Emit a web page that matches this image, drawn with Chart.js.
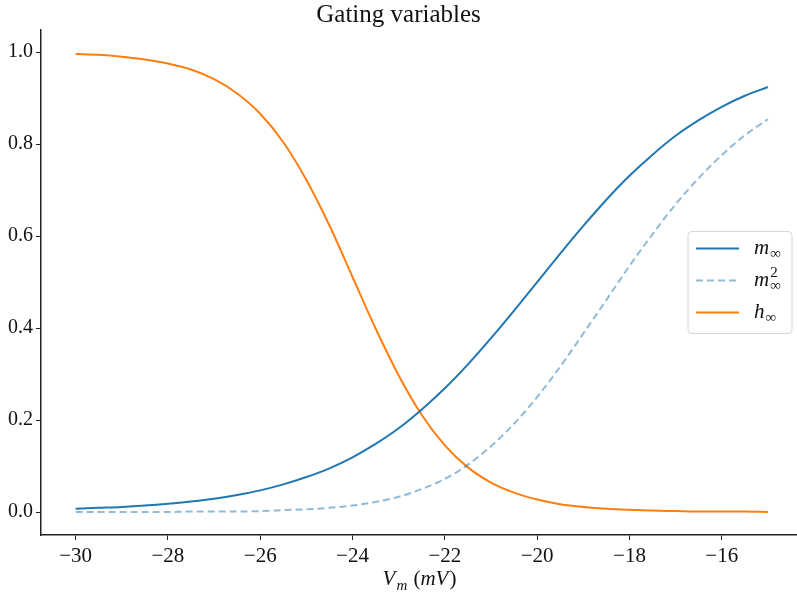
<!DOCTYPE html>
<html>
<head>
<meta charset="utf-8">
<script src="https://cdn.jsdelivr.net/npm/chart.js@4"></script>
<style>
  body { margin: 0; background: #fff; }
  canvas { display: block; }
</style>
</head>
<body>
<canvas id="gating" width="797" height="594"></canvas>
<script>
// Membrane potential samples (mV) and the gating curves
const vm = [-30, -29.5, -29, -28.5, -28, -27.5, -27, -26.5, -26, -25.5, -25, -24.5, -24, -23.5, -23,
            -22.5, -22, -21.5, -21, -20.5, -20, -19.5, -19, -18.5, -18, -17.5, -17, -16.5, -16, -15.5, -15];
const mInf = [0.007, 0.009, 0.011, 0.014, 0.018, 0.023, 0.029, 0.037, 0.047, 0.060, 0.076, 0.095, 0.119, 0.148, 0.182,
              0.223, 0.269, 0.321, 0.378, 0.438, 0.500, 0.562, 0.622, 0.679, 0.731, 0.777, 0.818, 0.852, 0.881, 0.905, 0.924];
const mInfSq = [0.000, 0.000, 0.000, 0.000, 0.000, 0.001, 0.001, 0.001, 0.002, 0.004, 0.006, 0.009, 0.014, 0.022, 0.033,
                0.050, 0.072, 0.103, 0.143, 0.192, 0.250, 0.316, 0.388, 0.461, 0.535, 0.604, 0.669, 0.726, 0.776, 0.819, 0.854];
const hInf = [0.996, 0.994, 0.990, 0.984, 0.975, 0.962, 0.941, 0.910, 0.866, 0.804, 0.722, 0.623, 0.511, 0.399, 0.297,
              0.211, 0.145, 0.097, 0.064, 0.042, 0.027, 0.017, 0.011, 0.007, 0.005, 0.003, 0.002, 0.001, 0.001, 0.001, 0.000];

const xTicks = [-30, -28, -26, -24, -22, -20, -18, -16];
const yTicks = [0, 0.2, 0.4, 0.6, 0.8, 1.0];

const serif = "'Liberation Serif', 'DejaVu Serif', serif";
const blue = '#1f77b4';
const orange = '#ff7f0e';
const lightBlue = 'rgba(31, 119, 180, 0.5)';

const toPoints = ys => vm.map((v, i) => ({ x: v, y: ys[i] }));

// italic base letter with optional super/subscript, returns end x
function drawMath(ctx, x, y, base, sup, sub, size) {
    ctx.font = 'italic ' + size + 'px ' + serif;
    ctx.fillText(base, x, y);
    const w = ctx.measureText(base).width;
    let extra = 0;
    const small = Math.round(size * 0.7);
    if (sup) {
        ctx.font = small + 'px ' + serif;
        ctx.fillText(sup, x + w + 1, y - size * 0.42);
        extra = ctx.measureText(sup).width;
    }
    if (sub) {
        ctx.font = 'italic ' + small + 'px ' + serif;
        ctx.fillText(sub, x + w + 1, y + size * 0.22);
        extra = Math.max(extra, ctx.measureText(sub).width);
    }
    return x + w + extra + 1;
}

const legendItems = [
    { base: 'm', sup: '', sub: '\u221E', color: blue, dash: [] },
    { base: 'm', sup: '2', sub: '\u221E', color: lightBlue, dash: [7, 4] },
    { base: 'h', sup: '', sub: '\u221E', color: orange, dash: [] }
];

const overlay = {
    id: 'overlay',
    afterDraw(chart) {
        const ctx = chart.ctx;
        const a = chart.chartArea;
        ctx.save();

        // legend box
        const w = 104, h = 102;
        const x0 = a.right - w - 5;
        const y0 = (a.top + a.bottom) / 2 - h / 2;
        ctx.beginPath();
        ctx.roundRect(x0, y0, w, h, 4);
        ctx.fillStyle = 'rgba(255, 255, 255, 0.8)';
        ctx.fill();
        ctx.strokeStyle = '#d6d6d6';
        ctx.lineWidth = 1;
        ctx.stroke();

        legendItems.forEach((it, i) => {
            const ly = y0 + 17 + i * 32;
            ctx.beginPath();
            ctx.setLineDash(it.dash);
            ctx.strokeStyle = it.color;
            ctx.lineWidth = 2;
            ctx.moveTo(x0 + 8, ly);
            ctx.lineTo(x0 + 51, ly);
            ctx.stroke();
            ctx.setLineDash([]);
            ctx.fillStyle = '#111';
            ctx.textAlign = 'left';
            ctx.textBaseline = 'alphabetic';
            drawMath(ctx, x0 + 66, ly + 5, it.base, it.sup, it.sub, 21);
        });

        // x axis label: V_m (mV)
        const size = 21;
        ctx.font = 'italic ' + size + 'px ' + serif;
        const wV = ctx.measureText('V').width;
        ctx.font = 'italic 15px ' + serif;
        const wm = ctx.measureText('m').width;
        ctx.font = size + 'px ' + serif;
        const wOpen = ctx.measureText(' (').width;
        const wClose = ctx.measureText(')').width;
        ctx.font = 'italic ' + size + 'px ' + serif;
        const wmV = ctx.measureText('mV').width;
        const total = wV + wm + 2 + wOpen + wmV + wClose;
        let x = (a.left + a.right) / 2 - total / 2;
        const by = 585;
        ctx.fillStyle = '#111';
        ctx.textAlign = 'left';
        ctx.textBaseline = 'alphabetic';
        x = drawMath(ctx, x, by, 'V', '', 'm', size) + 1;
        ctx.font = size + 'px ' + serif;
        ctx.fillText(' (', x, by);
        x += wOpen;
        ctx.font = 'italic ' + size + 'px ' + serif;
        ctx.fillText('mV', x, by);
        x += wmV + 1;
        ctx.font = size + 'px ' + serif;
        ctx.fillText(')', x, by);

        ctx.restore();
    }
};

new Chart(document.getElementById('gating'), {
    type: 'line',
    data: {
        datasets: [
            {
                label: 'm_inf',
                data: toPoints(mInf),
                borderColor: blue,
                borderWidth: 2
            },
            {
                label: 'm_inf^2',
                data: toPoints(mInfSq),
                borderColor: lightBlue,
                borderWidth: 2,
                borderDash: [7, 4]
            },
            {
                label: 'h_inf',
                data: toPoints(hInf),
                borderColor: orange,
                borderWidth: 2
            }
        ]
    },
    options: {
        responsive: false,
        animation: false,
        elements: {
            point: { radius: 0 },
            line: { cubicInterpolationMode: 'monotone', fill: false }
        },
        layout: { padding: { left: 0, right: 0, top: 0, bottom: 0 } },
        plugins: {
            legend: { display: false },
            tooltip: { enabled: false },
            title: {
                display: true,
                text: 'Gating variables',
                color: '#111',
                font: { family: serif, size: 25, weight: 'normal', lineHeight: 1.2 },
                padding: { top: 0, bottom: 0 }
            }
        },
        scales: {
            x: {
                type: 'linear',
                min: -30.75,
                max: -14.37,
                afterBuildTicks: scale => { scale.ticks = xTicks.map(v => ({ value: v })); },
                afterFit: scale => { scale.height = 59; },
                border: { display: true, color: '#222', width: 1.5 },
                grid: { drawOnChartArea: false, tickLength: 5, tickColor: '#222', tickWidth: 1 },
                ticks: {
                    color: '#111',
                    padding: 4,
                    maxRotation: 0,
                    autoSkip: false,
                    font: { family: serif, size: 21 },
                    callback: v => String(v).replace('-', '\u2212')
                }
            },
            y: {
                type: 'linear',
                min: -0.05,
                max: 1.048,
                afterBuildTicks: scale => { scale.ticks = yTicks.map(v => ({ value: v })); },
                afterFit: scale => { scale.width = 41; },
                border: { display: true, color: '#222', width: 1.5 },
                grid: { drawOnChartArea: false, tickLength: 5, tickColor: '#222', tickWidth: 1 },
                ticks: {
                    color: '#111',
                    padding: 3,
                    autoSkip: false,
                    font: { family: serif, size: 20 },
                    callback: v => Number(v).toFixed(1)
                }
            }
        }
    },
    plugins: [overlay]
});
</script>
</body>
</html>
